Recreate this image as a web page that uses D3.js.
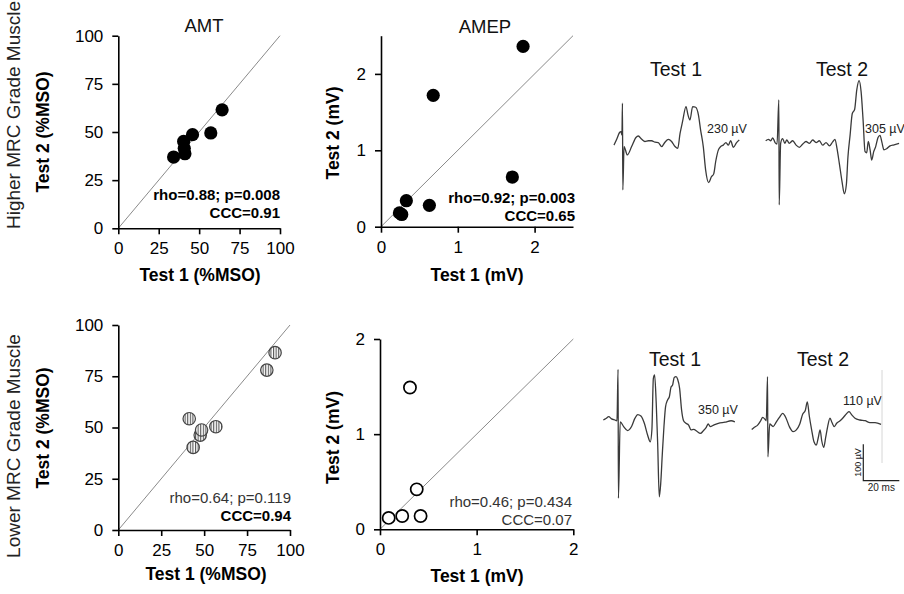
<!DOCTYPE html>
<html><head><meta charset="utf-8">
<script src="https://cdn.jsdelivr.net/npm/d3@7"></script>
<style>
body{margin:0;background:#fff}
svg{display:block;font-family:"Liberation Sans",Arial,sans-serif}
</style></head><body>
<svg id="fig" width="904" height="594"></svg>
<script>
// Test-retest values: AMT in %MSO, AMEP in mV
const amtHigherTest1 = [34.2, 40.4, 40.8, 41.2, 45.9, 57.2, 64.2];
const amtHigherTest2 = [37.0, 45.1, 41.5, 38.7, 48.6, 49.5, 61.5];
const amepHigherTest1 = [0.24, 0.27, 0.33, 0.63, 0.68, 1.71, 1.85];
const amepHigherTest2 = [0.18, 0.16, 0.34, 0.28, 1.72, 0.65, 2.36];
const amtLowerTest1 = [41.3, 43.6, 47.7, 48.5, 56.8, 86.5, 91.3];
const amtLowerTest2 = [54.3, 40.3, 46.3, 48.8, 50.4, 78.0, 86.5];
const amepLowerTest1 = [0.09, 0.23, 0.42, 0.38, 0.31];
const amepLowerTest2 = [0.12, 0.14, 0.14, 0.42, 1.49];

const amtTicks = [0, 25, 50, 75, 100];
const amepTicks = [0, 1, 2];

const statsAmtHigher = ["rho=0.88; p=0.008", "CCC=0.91"];
const statsAmepHigher = ["rho=0.92; p=0.003", "CCC=0.65"];
const statsAmtLower = ["rho=0.64; p=0.119", "CCC=0.94"];
const statsAmepLower = ["rho=0.46; p=0.434", "CCC=0.07"];

// Example MEP traces: [time (ms), amplitude (µV)]
const waveHigherTest1 = [[0,-5],[1.5,11],[3.0,29],[3.9,32],[4.4,23],[4.7,110],[4.9,-128],[5.6,-9],[7.4,-32],[9.8,-9],[12.2,16],[13.5,20],[15.4,11],[17.2,5],[19.1,7],[20.9,7],[22.8,3],[24.6,2],[26.5,-9],[28.3,3],[30.2,11],[32,5],[33.9,-9],[35.4,-14],[36.7,27],[38.1,60],[40,101],[41.1,78],[42.2,64],[43.7,101],[45.4,99],[46.9,78],[48.1,37],[49.6,-9],[50.9,-73],[52.6,-108],[54.1,-92],[55.4,-84],[56.5,-50],[58,-18],[59.3,-9],[60.7,-5],[62.2,2],[63.5,-5],[64.8,7],[66.3,-11],[68.1,2],[69.6,9]];
const waveHigherTest2 = [[0,7],[1.5,11],[2.8,7],[3.9,15],[5.2,2],[6.3,-2],[7.3,119],[7.5,-169],[8.3,0],[9.4,13],[10.6,0],[11.7,9],[13.1,0],[15,7],[16.9,-5],[18.7,-11],[20.6,-2],[22.4,5],[24.3,0],[26.1,9],[28,2],[29.8,7],[31.7,-5],[33.5,2],[35.4,-7],[37.2,4],[38.5,11],[39.6,-14],[40.9,-55],[42.4,-105],[43.7,-139],[44.8,-114],[45.7,-37],[46.9,23],[48.1,82],[49.4,93],[50.6,147],[51.9,172],[53,142],[54.1,64],[55.2,-23],[56.1,-26],[57,5],[58,-18],[58.9,-46],[60,-23],[61.1,-9],[62.4,16],[63.5,22],[64.6,2],[65.7,-18],[67.2,-15],[69.1,-7],[71.3,-4],[74.1,0]];
const waveLowerTest1 = [[0,0],[1.5,4],[3,9],[4.6,3],[6.5,0],[7.6,-2],[8.2,139],[8.4,-215],[9.4,-5],[11.3,-18],[13.5,-29],[15.7,-18],[17.6,5],[19.1,15],[20.9,11],[22.8,-9],[24.6,-41],[26.1,-60],[27,-27],[27.8,114],[28.5,124],[29.4,46],[30.2,-64],[31.1,-211],[31.9,-174],[32.8,-92],[33.7,-18],[34.6,37],[35.7,55],[36.7,64],[37.6,90],[38.5,96],[39.4,117],[40.4,119],[41.3,112],[42.4,87],[43.5,27],[44.6,-2],[45.9,-9],[47.4,-14],[48.7,-27],[50.2,-26],[52,-31],[53.9,-37],[55.7,-29],[57.2,-20],[58.3,-11],[59.4,-18],[61.3,-14],[63.9,-9],[67.6,-6],[71,-2],[73.1,-5]];
const waveLowerTest2 = [[0,-26],[1.5,-20],[3.3,-14],[5,-2],[6.1,7],[7.4,2],[8.1,-2],[8.8,119],[9.0,-101],[10,-11],[11.9,-18],[13.7,-5],[15.4,7],[17.2,18],[19.1,5],[20.9,-18],[23,-32],[24.8,-27],[26.7,-11],[28.3,16],[29.8,27],[30.9,50],[32,11],[33.3,-27],[34.6,-60],[35.9,-69],[37,-48],[38,-27],[38.9,-57],[40,-75],[41.1,-48],[42.2,-18],[43.5,5],[44.6,-7],[45.9,-18],[47.2,-9],[49.1,-2],[50.9,7],[52.8,18],[54.1,23],[55.6,14],[57.4,5],[60.2,0],[63,-2],[65.7,-7],[68.5,-7],[71.9,-12]];
const waveAmplitudes = ["230 µV", "305 µV", "350 µV", "110 µV"];
const scaleBar = { uV: 100, ms: 20 };

const svg = d3.select("#fig");

// striped fill for the lower-grade AMT markers
const pat = svg.append("defs").append("pattern")
  .attr("id", "stripes").attr("patternUnits", "userSpaceOnUse")
  .attr("width", 2.6).attr("height", 4);
pat.append("rect").attr("width", 2.6).attr("height", 4).attr("fill", "#fff");
pat.append("rect").attr("width", 1.1).attr("height", 4).attr("fill", "#555");

const panels = [
  { xs: amtHigherTest1, ys: amtHigherTest2, domain: [0, 100], ticks: amtTicks,
    box: { l: 118.3, r: 280, b: 228.3, t: 35.7 }, marker: "filled",
    stats: statsAmtHigher, bold: [true, true], statsAt: { x: 280, y: 200 },
    title: "AMT", titleAt: { x: 204, y: 32 },
    xLabel: "Test 1 (%MSO)", xLabelAt: { x: 200, y: 281 },
    yLabel: "Test 2 (%MSO)", yLabelAt: { x: 49, y: 132 } },
  { xs: amepHigherTest1, ys: amepHigherTest2, domain: [0, 2.5], ticks: amepTicks,
    box: { l: 381, r: 573, b: 226.7, t: 35.7 }, marker: "filled",
    stats: statsAmepHigher, bold: [true, true], statsAt: { x: 575, y: 203 },
    title: "AMEP", titleAt: { x: 485, y: 33 },
    xLabel: "Test 1 (mV)", xLabelAt: { x: 477, y: 281 },
    yLabel: "Test 2 (mV)", yLabelAt: { x: 338.5, y: 133 } },
  { xs: amtLowerTest1, ys: amtLowerTest2, domain: [0, 100], ticks: amtTicks,
    box: { l: 118.3, r: 290, b: 530, t: 325 }, marker: "striped",
    stats: statsAmtLower, bold: [false, true], statsAt: { x: 291, y: 502.7 },
    xLabel: "Test 1 (%MSO)", xLabelAt: { x: 206, y: 580 },
    yLabel: "Test 2 (%MSO)", yLabelAt: { x: 49, y: 428 } },
  { xs: amepLowerTest1, ys: amepLowerTest2, domain: [0, 2], ticks: amepTicks,
    box: { l: 380, r: 573.3, b: 529.3, t: 339 }, marker: "open",
    stats: statsAmepLower, bold: [false, false], statsAt: { x: 572, y: 507.3 },
    xLabel: "Test 1 (mV)", xLabelAt: { x: 477, y: 582 },
    yLabel: "Test 2 (mV)", yLabelAt: { x: 338.5, y: 437.5 } }
];

panels.forEach(p => {
  const x = d3.scaleLinear().domain(p.domain).range([p.box.l, p.box.r]);
  const y = d3.scaleLinear().domain(p.domain).range([p.box.b, p.box.t]);
  const g = svg.append("g");
  const fmt = d3.format("d");

  // identity line
  g.append("line")
    .attr("x1", x(p.domain[0])).attr("y1", y(p.domain[0]))
    .attr("x2", x(p.domain[1])).attr("y2", y(p.domain[1]))
    .attr("stroke", "#8a8a8a").attr("stroke-width", 1);

  const ax = g.append("g").attr("transform", `translate(0,${p.box.b})`)
    .call(d3.axisBottom(x).tickValues(p.ticks).tickFormat(fmt).tickSize(6).tickSizeOuter(0).tickPadding(8));
  const ay = g.append("g").attr("transform", `translate(${p.box.l},0)`)
    .call(d3.axisLeft(y).tickValues(p.ticks).tickFormat(fmt).tickSize(6).tickSizeOuter(0).tickPadding(9));
  [ax, ay].forEach(a => {
    a.selectAll("path,line").attr("stroke", "#000").attr("stroke-width", 1.6);
    a.selectAll("text").attr("font-size", 17).attr("fill", "#000")
      .attr("font-family", "Liberation Sans, Arial, sans-serif");
  });

  const dots = g.append("g").selectAll("circle")
    .data(p.xs.map((v, i) => [v, p.ys[i]]))
    .join("circle")
    .attr("cx", d => x(d[0])).attr("cy", d => y(d[1]));
  if (p.marker === "filled") {
    dots.attr("r", 6.6).attr("fill", "#000");
  } else if (p.marker === "striped") {
    dots.attr("r", 6.2).attr("fill", "url(#stripes)").attr("stroke", "#444").attr("stroke-width", 1.2);
  } else {
    dots.attr("r", 6.1).attr("fill", "#fff").attr("stroke", "#000").attr("stroke-width", 1.7);
  }

  p.stats.forEach((s, i) => {
    g.append("text").attr("x", p.statsAt.x).attr("y", p.statsAt.y + i * 18)
      .attr("text-anchor", "end").attr("font-size", 15)
      .attr("font-weight", p.bold[i] ? "bold" : "normal")
      .attr("fill", p.bold[i] ? "#000" : "#333").text(s);
  });

  if (p.title) {
    g.append("text").attr("x", p.titleAt.x).attr("y", p.titleAt.y)
      .attr("text-anchor", "middle").attr("font-size", 18.5).attr("fill", "#111").text(p.title);
  }
  g.append("text").attr("x", p.xLabelAt.x).attr("y", p.xLabelAt.y)
    .attr("text-anchor", "middle").attr("font-size", 17.5).attr("font-weight", "bold").text(p.xLabel);
  g.append("text").attr("transform", `translate(${p.yLabelAt.x},${p.yLabelAt.y}) rotate(-90)`)
    .attr("text-anchor", "middle").attr("font-size", 17.5).attr("font-weight", "bold").text(p.yLabel);
});

// row labels
[["Higher MRC Grade Muscle", 115], ["Lower MRC Grade Muscle", 446]].forEach(([t, cy]) => {
  svg.append("text").attr("transform", `translate(20,${cy}) rotate(-90)`)
    .attr("text-anchor", "middle").attr("font-size", 19).attr("fill", "#222").text(t);
});

// example traces
const pxPerMs = 1.8, pxPerUv = 0.364;
const traces = [
  { data: waveHigherTest1, x0: 614, y0: 143.3, title: "Test 1", titleAt: [676, 76], amp: waveAmplitudes[0], ampAt: [707, 133] },
  { data: waveHigherTest2, x0: 765.7, y0: 143.3, title: "Test 2", titleAt: [842, 76], amp: waveAmplitudes[1], ampAt: [865, 133] },
  { data: waveLowerTest1, x0: 603.3, y0: 420, title: "Test 1", titleAt: [675, 366], amp: waveAmplitudes[2], ampAt: [698, 414] },
  { data: waveLowerTest2, x0: 751.7, y0: 420, title: "Test 2", titleAt: [823, 366], amp: waveAmplitudes[3], ampAt: [843, 405] }
];
traces.forEach(tr => {
  const tx = d3.scaleLinear().domain([0, 1]).range([tr.x0, tr.x0 + pxPerMs]);
  const ty = d3.scaleLinear().domain([0, 1]).range([tr.y0, tr.y0 - pxPerUv]);
  const line = d3.line().x(d => tx(d[0])).y(d => ty(d[1])).curve(d3.curveMonotoneX);
  svg.append("path").attr("d", line(tr.data)).attr("fill", "none")
    .attr("stroke", "#3a3a3a").attr("stroke-width", 1.3).attr("stroke-linejoin", "round");
  svg.append("text").attr("x", tr.titleAt[0]).attr("y", tr.titleAt[1])
    .attr("text-anchor", "middle").attr("font-size", 19.5).attr("fill", "#111").text(tr.title);
  svg.append("text").attr("x", tr.ampAt[0]).attr("y", tr.ampAt[1])
    .attr("font-size", 12.5).attr("fill", "#222").text(tr.amp);
});

// faint edge line beside the lower test 2 trace
svg.append("line").attr("x1", 882).attr("x2", 882).attr("y1", 370).attr("y2", 463)
  .attr("stroke", "#d6d6d6").attr("stroke-width", 1);

// calibration bar
const sbx = d3.scaleLinear().domain([0, 1]).range([863.3, 863.3 + pxPerMs]);
const sby = d3.scaleLinear().domain([0, 1]).range([480.7, 480.7 - pxPerUv]);
svg.append("path")
  .attr("d", `M${sbx(0)},${sby(scaleBar.uV)}V${sby(0)}H${sbx(scaleBar.ms)}`)
  .attr("fill", "none").attr("stroke", "#222").attr("stroke-width", 1.2);
svg.append("text").attr("transform", `translate(861,${sby(scaleBar.uV / 2)}) rotate(-90)`)
  .attr("text-anchor", "middle").attr("font-size", 9).attr("fill", "#222").text(scaleBar.uV + " µV");
svg.append("text").attr("x", sbx(scaleBar.ms / 2)).attr("y", 491)
  .attr("text-anchor", "middle").attr("font-size", 10).attr("fill", "#222").text(scaleBar.ms + " ms");
</script>
</body></html>
